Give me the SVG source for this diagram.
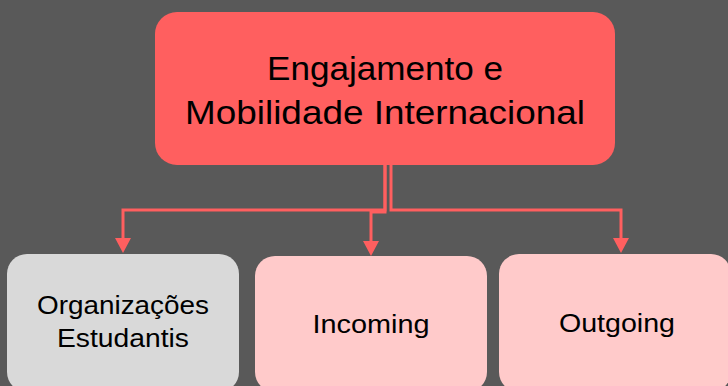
<svg xmlns="http://www.w3.org/2000/svg" width="728" height="386" viewBox="0 0 728 386">
<defs>
<style>
.t{font-family:"Liberation Sans",Arial,sans-serif;fill:#000;text-anchor:middle}
.c{fill:none;stroke:#FF5F5F;stroke-width:3}
.h{fill:#FF5F5F}
</style>
</defs>
<rect width="728" height="386" fill="#595959"/>
<g id="connectors">
<path class="c" d="M385,165 V210 H123 V239"/>
<path class="c" d="M385,165 V212 H371 V242"/>
<path class="c" d="M391,165 V210 H621 V239"/>
<polygon class="h" points="115,238 131,238 123,253"/>
<polygon class="h" points="363,241 379,241 371,256"/>
<polygon class="h" points="613,238 629,238 621,253"/>
</g>
<g id="root">
<rect x="155" y="12" width="460" height="153" rx="22" fill="#FF5F5F"/>
<text class="t" x="385" y="80" font-size="34" textLength="236" lengthAdjust="spacingAndGlyphs">Engajamento e</text>
<text class="t" x="385" y="124" font-size="34" textLength="400" lengthAdjust="spacingAndGlyphs">Mobilidade Internacional</text>
</g>
<g id="org">
<rect x="7" y="254" width="232" height="138" rx="20" fill="#D9D9D9"/>
<text class="t" x="123" y="314" font-size="26" textLength="172" lengthAdjust="spacingAndGlyphs">Organizações</text>
<text class="t" x="123" y="347" font-size="26" textLength="132" lengthAdjust="spacingAndGlyphs">Estudantis</text>
</g>
<g id="incoming">
<rect x="255" y="256" width="232" height="136" rx="20" fill="#FFCACA"/>
<text class="t" x="371" y="333" font-size="26" textLength="117" lengthAdjust="spacingAndGlyphs">Incoming</text>
</g>
<g id="outgoing">
<rect x="499" y="254" width="232" height="138" rx="20" fill="#FFCACA"/>
<text class="t" x="617" y="332" font-size="26" textLength="116" lengthAdjust="spacingAndGlyphs">Outgoing</text>
</g>
</svg>
